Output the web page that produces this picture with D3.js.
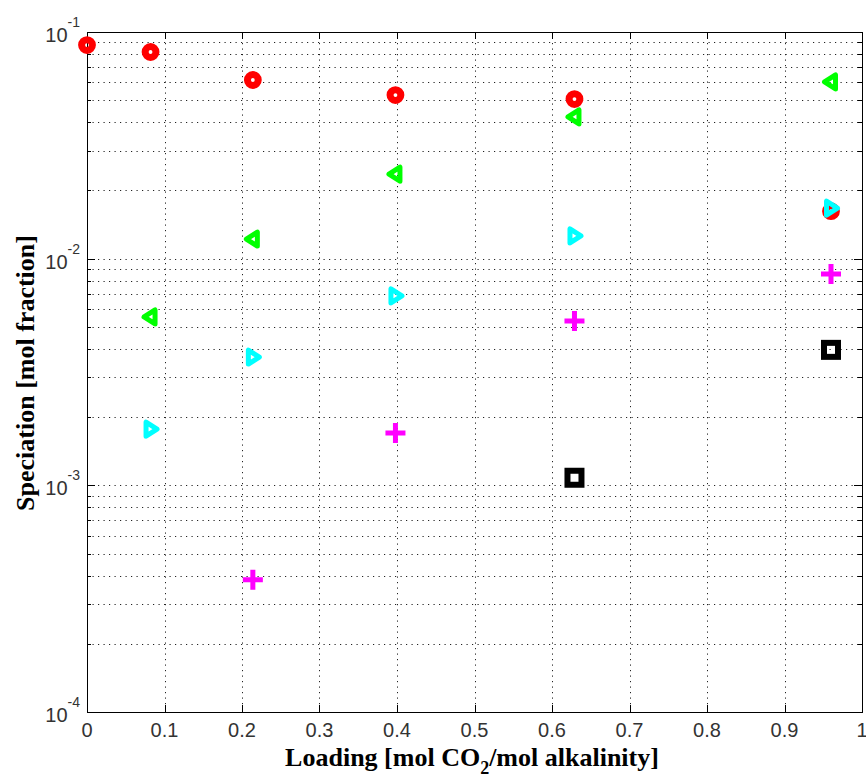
<!DOCTYPE html>
<html>
<head>
<meta charset="utf-8">
<script src="https://cdn.jsdelivr.net/npm/d3@7"></script>
<style>
  body { margin: 0; background: #fff; }
  svg { display: block; }
  .tick-label { font-family: "Liberation Sans", Arial, sans-serif; font-size: 20px; fill: #333; }
  .axis-title { font-family: "Liberation Serif", "Times New Roman", serif; font-size: 26px; font-weight: bold; fill: #000; }
</style>
</head>
<body>
<svg width="866" height="779"></svg>
<script>
// loading values (x) for each series
const LOAD_ALL = [0, 0.082, 0.214, 0.398, 0.629, 0.96];
const LOAD_NO0 = [0.082, 0.214, 0.398, 0.629, 0.96];
const LOAD_NO01 = [0.214, 0.398, 0.629, 0.96];
const LOAD_HIGH = [0.629, 0.96];

// speciation values (mol fraction)
const RED_O = [0.0876, 0.0816, 0.0614, 0.0527, 0.0506, 0.0162];
const GREEN_LT = [0.00553, 0.0122, 0.0236, 0.0422, 0.0602];
const CYAN_GT = [0.00177, 0.00368, 0.00685, 0.0126, 0.0167];
const MAGENTA_PLUS = [0.000383, 0.00170, 0.00531, 0.00856];
const BLACK_SQ = [0.00108, 0.00396];

const X_TICKS = [0, 0.1, 0.2, 0.3, 0.4, 0.5, 0.6, 0.7, 0.8, 0.9, 1];
const Y_DECADES = [-4, -3, -2, -1];

const pLeft = 87, pRight = 862, pTop = 32, pBottom = 712;

const svg = d3.select('svg');
const x = d3.scaleLinear().domain([0, 1]).range([pLeft, pRight]);
const y = d3.scaleLog().domain([1e-4, 1e-1]).range([pBottom, pTop]);

// minor log values
let minors = [];
for (let e = -4; e < -1; e++) {
  for (let m = 2; m <= 9; m++) minors.push(m * Math.pow(10, e));
}
const majors = Y_DECADES.map(e => Math.pow(10, e));

// grid
const grid = svg.append('g').attr('stroke', '#222').attr('stroke-width', 1)
  .attr('stroke-dasharray', '1.2,4.3');
grid.selectAll('line.gy').data(minors.concat(majors.slice(1, 3))).enter().append('line')
  .attr('x1', pLeft).attr('x2', pRight)
  .attr('y1', d => Math.round(y(d)) + 0.5).attr('y2', d => Math.round(y(d)) + 0.5);
grid.selectAll('line.gx').data(X_TICKS.slice(1, -1)).enter().append('line')
  .attr('y1', pTop).attr('y2', pBottom)
  .attr('x1', d => Math.round(x(d)) + 0.5).attr('x2', d => Math.round(x(d)) + 0.5);

// ticks
const ticks = svg.append('g').attr('stroke', '#000').attr('stroke-width', 1);
X_TICKS.forEach(t => {
  const px = Math.round(x(t)) + 0.5;
  ticks.append('line').attr('x1', px).attr('x2', px).attr('y1', pBottom).attr('y2', pBottom - 7);
  ticks.append('line').attr('x1', px).attr('x2', px).attr('y1', pTop).attr('y2', pTop + 7);
});
majors.forEach(v => {
  const py = Math.round(y(v)) + 0.5;
  ticks.append('line').attr('x1', pLeft).attr('x2', pLeft + 8).attr('y1', py).attr('y2', py);
  ticks.append('line').attr('x1', pRight).attr('x2', pRight - 8).attr('y1', py).attr('y2', py);
});
minors.forEach(v => {
  const py = Math.round(y(v)) + 0.5;
  ticks.append('line').attr('x1', pLeft).attr('x2', pLeft + 4).attr('y1', py).attr('y2', py);
  ticks.append('line').attr('x1', pRight).attr('x2', pRight - 4).attr('y1', py).attr('y2', py);
});

// frame
svg.append('rect').attr('x', pLeft + 0.5).attr('y', pTop + 0.5)
  .attr('width', pRight - pLeft).attr('height', pBottom - pTop)
  .attr('fill', 'none').attr('stroke', '#000').attr('stroke-width', 1);

// tick labels
svg.append('g').selectAll('text').data(X_TICKS).enter().append('text')
  .attr('class', 'tick-label').attr('text-anchor', 'middle')
  .attr('x', d => x(d)).attr('y', pBottom + 25)
  .text(d => d3.format('~g')(d));

const yl = svg.append('g').selectAll('text').data(Y_DECADES).enter().append('text')
  .attr('class', 'tick-label').attr('text-anchor', 'end')
  .attr('x', pLeft - 7).attr('y', d => y(Math.pow(10, d)) + 10);
yl.append('tspan').text('10');
yl.append('tspan').attr('dy', -15).attr('font-size', 14).text(d => String(d));

// axis titles
const xt = svg.append('text').attr('class', 'axis-title').attr('text-anchor', 'middle')
  .attr('x', 472).attr('y', 766);
xt.append('tspan').text('Loading [mol CO');
xt.append('tspan').attr('dy', 8).attr('font-size', 18).text('2');
xt.append('tspan').attr('dy', -8).text('/mol alkalinity]');

svg.append('text').attr('class', 'axis-title').attr('text-anchor', 'middle')
  .attr('transform', `translate(34,373) rotate(-90)`)
  .text('Speciation [mol fraction]');

// markers
const plot = svg.append('g');
function series(xs, ys) { return xs.map((v, i) => ({ x: v, y: ys[i] })); }

plot.selectAll('circle.red').data(series(LOAD_ALL, RED_O)).enter().append('circle')
  .attr('cx', d => x(d.x)).attr('cy', d => y(d.y)).attr('r', 5.4)
  .attr('fill', 'none').attr('stroke', '#ff0000').attr('stroke-width', 7);

const triLeft = 'M-6.5,0L4.5,-7L4.5,7Z';
const triRight = 'M6.5,0L-4.5,-7L-4.5,7Z';
plot.selectAll('path.green').data(series(LOAD_NO0, GREEN_LT)).enter().append('path')
  .attr('d', triLeft).attr('transform', d => `translate(${x(d.x)},${y(d.y)})`)
  .attr('fill', 'none').attr('stroke', '#00ff00').attr('stroke-width', 5).attr('stroke-linejoin', 'round');

plot.selectAll('path.cyan').data(series(LOAD_NO0, CYAN_GT)).enter().append('path')
  .attr('d', triRight).attr('transform', d => `translate(${x(d.x)},${y(d.y)})`)
  .attr('fill', 'none').attr('stroke', '#00ffff').attr('stroke-width', 5).attr('stroke-linejoin', 'round');

plot.selectAll('path.mag').data(series(LOAD_NO01, MAGENTA_PLUS)).enter().append('path')
  .attr('d', 'M-10,0H10M0,-10V10').attr('transform', d => `translate(${x(d.x)},${y(d.y)})`)
  .attr('fill', 'none').attr('stroke', '#ff00ff').attr('stroke-width', 5);

plot.selectAll('rect.blk').data(series(LOAD_HIGH, BLACK_SQ)).enter().append('rect')
  .attr('x', d => x(d.x) - 7).attr('y', d => y(d.y) - 7).attr('width', 14).attr('height', 14)
  .attr('fill', 'none').attr('stroke', '#000').attr('stroke-width', 6);
</script>
</body>
</html>
